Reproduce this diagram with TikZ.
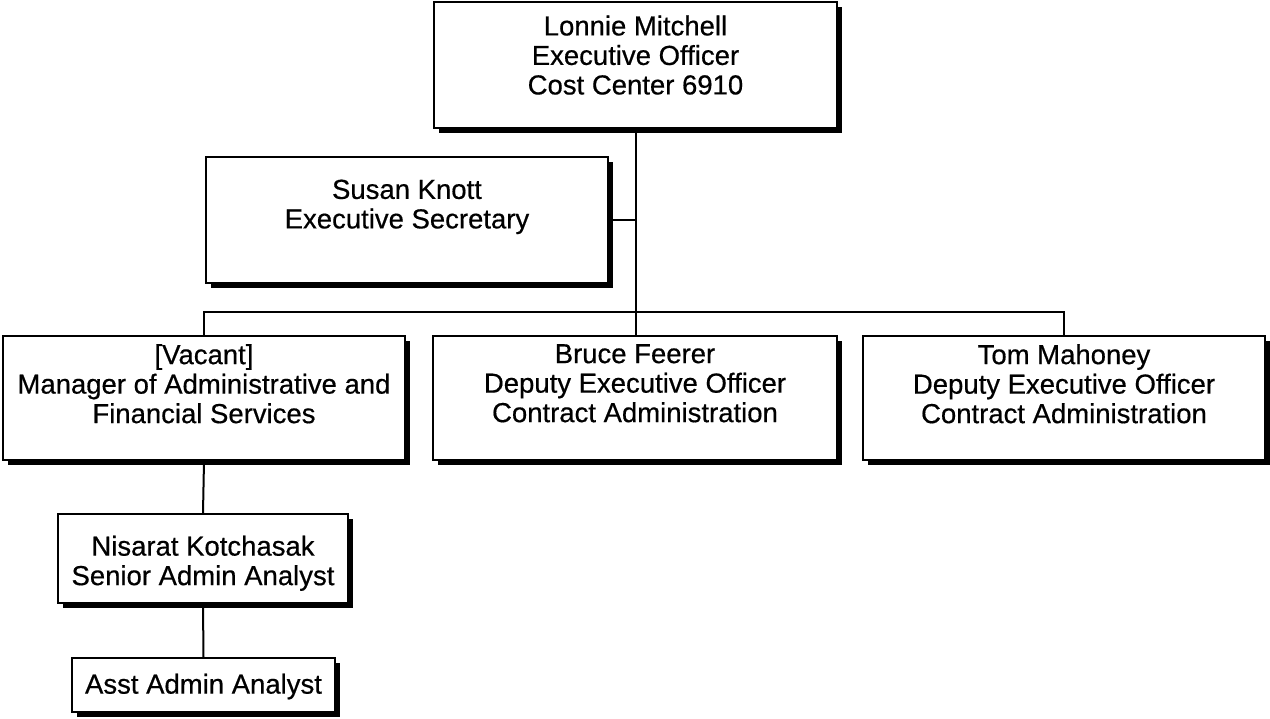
\documentclass[tikz,border=0pt]{standalone}
\usepackage{fontspec}
\setmainfont[FakeBold=0.5]{Liberation Sans}
\usetikzlibrary{shadows}
\tikzset{
  box/.style={draw, line width=1.7pt, fill=white, inner sep=0pt,
    drop shadow={shadow xshift=5pt, shadow yshift=-5pt, fill=black, opacity=1}},
  txt/.style={anchor=north, inner sep=0pt, align=center,
    font=\fontsize{27.5}{29.5}\selectfont},
  conn/.style={line width=2pt}
}
\begin{document}
\begin{tikzpicture}[x=1pt,y=-1pt]
\useasboundingbox (0,0) rectangle (1270,719);
% boxes
\node[box, minimum width=403pt, minimum height=126pt] (lonnie) at (635.5,65) {};
\node[box, minimum width=402pt, minimum height=126pt] (susan) at (407,220) {};
\node[box, minimum width=402pt, minimum height=124pt] (vacant) at (204,398) {};
\node[box, minimum width=404pt, minimum height=124pt] (bruce) at (635,398) {};
\node[box, minimum width=402pt, minimum height=124pt] (tom) at (1064,398) {};
\node[box, minimum width=290pt, minimum height=89pt] (nisarat) at (203,558.5) {};
\node[box, minimum width=263pt, minimum height=54pt] (asst) at (203.5,685) {};
% texts
\node[txt] (lonnieT) at (635.5,15.3) {Lonnie Mitchell\\Executive Officer\\Cost Center 6910};
\node[txt] (susanT) at (407,179.5) {Susan Knott\\Executive Secretary};
\node[txt] (vacantT) at (204,344) {[Vacant]\\Manager of Administrative and\\Financial Services};
\node[txt] (bruceT) at (635,344) {Bruce Feerer\\Deputy Executive Officer\\Contract Administration};
\node[txt] (tomT) at (1064,344) {Tom Mahoney\\Deputy Executive Officer\\Contract Administration};
\node[txt] (nisaratT) at (203,535.5) {Nisarat Kotchasak\\Senior Admin Analyst};
\node[txt] (asstT) at (203.5,673.5) {Asst Admin Analyst};
% connectors
\coordinate (bus) at (635.5,312);
\draw[conn] (lonnie.south) -- (lonnie.south |- bruce.north);
\draw[conn] (susan.east) -- (susan.east -| lonnie.south);
\draw[conn] (vacant.north) -- (vacant.north |- bus) -- (tom.north |- bus) -- (tom.north);
\draw[conn] (vacant.south) -- (nisarat.north);
\draw[conn] (nisarat.south) -- (asst.north);
\end{tikzpicture}
\end{document}
